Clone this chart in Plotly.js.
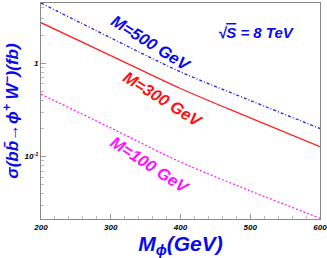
<!DOCTYPE html>
<html><head><meta charset="utf-8">
<script src="https://cdn.plot.ly/plotly-3.0.1.min.js"></script>
<style>body{margin:0;padding:0;background:#fff}#c{width:327px;height:258px}</style>
</head><body><div id="c"></div>
<script>
const mPhi = [200, 300, 400, 500, 600];
const sigM500 = [4.42, 1.87, 0.81, 0.40, 0.20];
const sigM300 = [2.72, 1.21, 0.537, 0.26, 0.128];
const sigM100 = [0.466, 0.203, 0.0877, 0.043, 0.0219];
const xTicks = [200, 300, 400, 500, 600];
const yTickVals = [0.1, 1];
const yTickText = ['10<sup>-1</sup>', '1'];

const F = 'Liberation Sans, Arial, sans-serif';
const minorY = [];
[0.01, 0.1, 1].forEach(d => { for (let k = 2; k <= 9; k++) minorY.push(+(d * k).toPrecision(3)); });

const traces = [
  {x: mPhi, y: sigM500, mode: 'lines', line: {color: '#2222ee', width: 1.3, dash: '3px,2px,1px,2px', shape: 'spline'}},
  {x: mPhi, y: sigM300, mode: 'lines', line: {color: '#ff2020', width: 1.3, shape: 'spline'}},
  {x: mPhi, y: sigM100, mode: 'lines', line: {color: '#ff22ff', width: 1.3, dash: '2px,2px', shape: 'spline'}}
];

function lab(x, y, text, color, angle) {
  return {xref: 'x', yref: 'y', x: x, y: Math.log10(y), xanchor: 'center', yanchor: 'middle',
    text: text, showarrow: false, textangle: angle,
    font: {size: 16.5, color: color, weight: 'bold', style: 'italic', family: F}};
}

const layout = {
  width: 327, height: 258,
  margin: {l: 41, r: 7, t: 3, b: 39},
  paper_bgcolor: '#fff', plot_bgcolor: '#fff',
  showlegend: false,
  font: {family: F},
  xaxis: {
    range: [199.98, 600.02], showgrid: false, zeroline: false,
    showline: true, linecolor: '#888', linewidth: 1, mirror: true,
    ticks: 'inside', ticklen: 5, tickcolor: '#999',
    tickvals: xTicks, ticktext: xTicks.map(String), ticklabeloverflow: 'allow',
    tickfont: {size: 8, color: '#000', weight: 'bold', style: 'italic', family: F},
    minor: {dtick: 20, ticks: 'inside', ticklen: 3, tickcolor: '#bbb'},
    title: {text: 'M<sub>ϕ</sub>(GeV)', standoff: 2,
      font: {size: 21, color: '#0a0aee', weight: 'bold', style: 'italic', family: F}}
  },
  yaxis: {
    type: 'log', range: [Math.log10(0.0215), Math.log10(4.42)],
    showgrid: false, zeroline: false,
    showline: true, linecolor: '#888', linewidth: 1, mirror: true,
    ticks: 'inside', ticklen: 5, tickcolor: '#999',
    tickvals: yTickVals, ticktext: yTickText,
    tickfont: {size: 8, color: '#000', weight: 'bold', style: 'italic', family: F},
    minor: {tickvals: minorY, ticks: 'inside', ticklen: 3, tickcolor: '#bbb'},
    title: {text: 'σ(bb̄→ϕ<sup>+</sup> W<sup>−</sup>)(fb)', standoff: 8,
      font: {size: 17, color: '#0a0aee', weight: 'bold', style: 'italic', family: F}}
  },
  annotations: [
    lab(358, 1.65, 'M=500 GeV', '#0a0aee', 32),
    lab(375, 0.415, 'M=300 GeV', '#ff1010', 32),
    lab(357, 0.0815, 'M=100 GeV', '#ff10ff', 33),
    {xref: 'x', yref: 'y', x: 567, y: Math.log10(2.11), xanchor: 'right', yanchor: 'middle',
      text: '√<span style="text-decoration:overline">S</span> = 8 TeV', showarrow: false,
      font: {size: 15, color: '#0a0aee', weight: 'bold', style: 'italic', family: F}}
  ]
};
Plotly.newPlot('c', traces, layout, {displayModeBar: false, staticPlot: true});
</script></body></html>
